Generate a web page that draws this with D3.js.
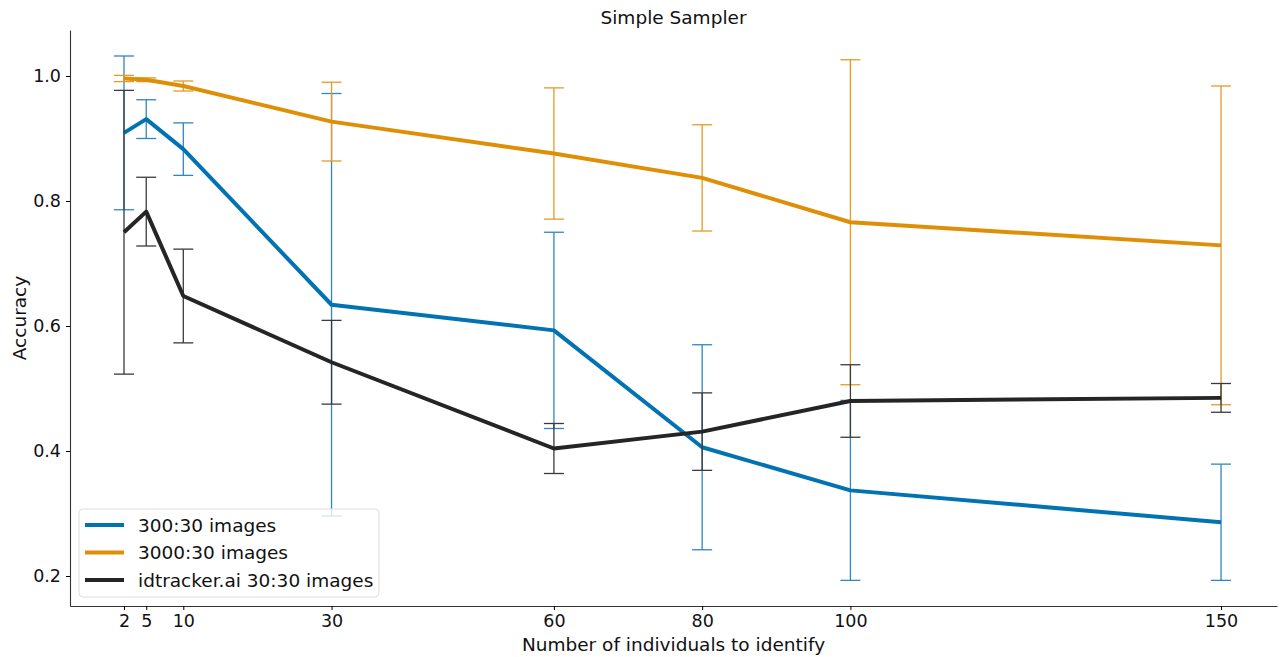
<!DOCTYPE html>
<html>
<head>
<meta charset="utf-8">
<script src="https://cdn.jsdelivr.net/npm/d3@7"></script>
<style>
  body { margin: 0; background: #fff; }
  svg { font-family: "DejaVu Sans", sans-serif; }
</style>
</head>
<body>
<div id="chart-area"></div>
<script>
// Data
const individuals = [2, 5, 10, 30, 60, 80, 100, 150]
const xTicks = [2, 5, 10, 30, 60, 80, 100, 150]
const yTicks = [0.2, 0.4, 0.6, 0.8, 1.0]

const seriesNames = ["300:30 images", "3000:30 images", "idtracker.ai 30:30 images"]
const blueMean = [0.909, 0.931, 0.883, 0.634, 0.593, 0.406, 0.337, 0.286]
const blueErr = [0.123, 0.031, 0.042, 0.338, 0.157, 0.164, 0.144, 0.093]
const orangeMean = [0.996, 0.994, 0.984, 0.927, 0.876, 0.837, 0.766, 0.729]
const orangeErr = [0.005, 0.003, 0.008, 0.063, 0.105, 0.085, 0.26, 0.255]
const blackMean = [0.75, 0.783, 0.648, 0.542, 0.404, 0.431, 0.480, 0.485]
const blackErr = [0.227, 0.055, 0.075, 0.067, 0.04, 0.062, 0.058, 0.023]

const colors = ["#0173b2", "#de8f05", "#252525"]
const errColors = ["#2f86c0", "#e49a25", "#3a3a3a"]

// Set margins and dimensions
const MARGIN = { LEFT: 70, RIGHT: 5, TOP: 30, BOTTOM: 51 }
const WIDTH = 1282 - MARGIN.LEFT - MARGIN.RIGHT
const HEIGHT = 657 - MARGIN.TOP - MARGIN.BOTTOM

const svg = d3.select("#chart-area").append("svg")
  .attr("width", 1282)
  .attr("height", 657)

const g = svg.append("g")
  .attr("transform", `translate(${MARGIN.LEFT}, ${MARGIN.TOP})`)

// Scales (matplotlib-like 5% margins)
const x = d3.scaleLinear().domain([-5.285, 157.55]).range([0, WIDTH])
const y = d3.scaleLinear().domain([0.152, 1.0736]).range([HEIGHT, 0])

// Axes
const xAxisCall = d3.axisBottom(x).tickValues(xTicks).tickSizeInner(4).tickSizeOuter(0).tickPadding(5)
const xAxis = g.append("g")
  .attr("transform", `translate(0, ${HEIGHT})`)
  .call(xAxisCall)
xAxis.select(".domain").attr("stroke", "#333").attr("stroke-width", 1.1)
xAxis.selectAll("text").attr("font-size", "17.5px").attr("fill", "#111").attr("font-family", "DejaVu Sans")

const yAxisCall = d3.axisLeft(y).tickValues(yTicks).tickFormat(d3.format(".1f"))
  .tickSizeInner(4).tickSizeOuter(0).tickPadding(5)
const yAxis = g.append("g").call(yAxisCall)
yAxis.select(".domain").attr("stroke", "#333").attr("stroke-width", 1.1)
yAxis.selectAll("text").attr("font-size", "17.5px").attr("fill", "#111").attr("font-family", "DejaVu Sans")

// Labels
g.append("text")
  .attr("x", WIDTH / 2)
  .attr("y", HEIGHT + 45)
  .attr("font-size", "18.5px")
  .attr("text-anchor", "middle")
  .attr("fill", "#111")
  .text("Number of individuals to identify")

g.append("text")
  .attr("x", -(HEIGHT / 2))
  .attr("y", -44)
  .attr("font-size", "18.5px")
  .attr("text-anchor", "middle")
  .attr("transform", "rotate(-90)")
  .attr("fill", "#111")
  .text("Accuracy")

svg.append("text")
  .attr("x", MARGIN.LEFT + WIDTH / 2)
  .attr("y", 24)
  .attr("font-size", "18.5px")
  .attr("text-anchor", "middle")
  .attr("fill", "#111")
  .text("Simple Sampler")

// Series
const series = [
  { name: seriesNames[0], mean: blueMean, err: blueErr },
  { name: seriesNames[1], mean: orangeMean, err: orangeErr },
  { name: seriesNames[2], mean: blackMean, err: blackErr }
]

const line = d3.line().x(d => x(d.n)).y(d => y(d.m))
const CAP = 10

series.forEach((s, i) => {
  const pts = individuals.map((n, j) => ({ n, m: s.mean[j], e: s.err[j] }))
  const eg = g.append("g")
  eg.selectAll("line.bar").data(pts).enter().append("line")
    .attr("x1", d => x(d.n)).attr("x2", d => x(d.n))
    .attr("y1", d => y(d.m - d.e)).attr("y2", d => y(d.m + d.e))
    .attr("stroke", errColors[i]).attr("stroke-width", 1.3)
  ;["lo", "hi"].forEach(k => {
    eg.selectAll("line.cap" + k).data(pts).enter().append("line")
      .attr("x1", d => x(d.n) - CAP).attr("x2", d => x(d.n) + CAP)
      .attr("y1", d => y(k === "lo" ? d.m - d.e : d.m + d.e))
      .attr("y2", d => y(k === "lo" ? d.m - d.e : d.m + d.e))
      .attr("stroke", errColors[i]).attr("stroke-width", 1.3)
  })
  g.append("path")
    .datum(pts)
    .attr("d", line)
    .attr("fill", "none")
    .attr("stroke", colors[i])
    .attr("stroke-width", 4)
    .attr("stroke-linejoin", "round")
})

// Legend
const legend = g.append("g").attr("transform", `translate(9, ${HEIGHT - 97})`)
legend.append("rect")
  .attr("width", 300).attr("height", 88).attr("rx", 4)
  .attr("fill", "rgba(255,255,255,0.8)").attr("stroke", "#ddd")
seriesNames.forEach((name, i) => {
  const row = legend.append("g").attr("transform", `translate(0, ${16 + i * 27.5})`)
  row.append("line").attr("x1", 6).attr("x2", 45).attr("y1", 0).attr("y2", 0)
    .attr("stroke", colors[i]).attr("stroke-width", 4)
  row.append("text").attr("x", 59).attr("y", 6.5)
    .attr("font-size", "18.5px").attr("fill", "#111").text(name)
})
</script>
</body>
</html>
